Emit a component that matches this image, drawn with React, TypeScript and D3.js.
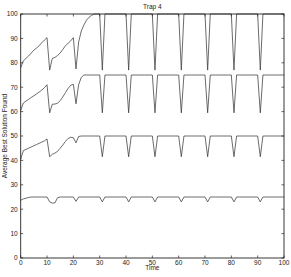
import React from "react";
import * as d3 from "d3";

const W = 291;
const H = 277;
const M = { left: 20.7, right: 284, top: 14, bottom: 258 };

const xTicks = [0, 10, 20, 30, 40, 50, 60, 70, 80, 90, 100];
const yTicks = [0, 10, 20, 30, 40, 50, 60, 70, 80, 90, 100];

const s100 = [
  78, 80.8, 81.8, 82.8, 84, 85.2, 86, 87, 88.2, 89.3, 90.3,
  77, 81.8, 82.2, 83, 84, 85.5, 87, 88, 89, 90.3,
  77.5, 88.5, 93, 95.5, 97.5, 98.7, 99.5, 100, 100, 100,
  77, 100, 100, 100, 100, 100, 100, 100, 100, 100,
  77, 100, 100, 100, 100, 100, 100, 100, 100, 100,
  77, 100, 100, 100, 100, 100, 100, 100, 100, 100,
  77, 100, 100, 100, 100, 100, 100, 100, 100, 100,
  77, 100, 100, 100, 100, 100, 100, 100, 100, 100,
  77, 100, 100, 100, 100, 100, 100, 100, 100, 100,
  77, 100, 100, 100, 100, 100, 100, 100, 100, 100,
];

const s75 = [
  60.5, 63.5, 64.3, 65, 65.8, 66.5, 67.2, 68, 68.8, 69.8, 71,
  59.5, 63, 63.1, 63.4, 64.5, 66, 67.8, 69.5, 70.8, 71.2,
  63.2, 71, 74, 75, 75, 75, 75, 75, 75, 75,
  59.5, 75, 75, 75, 75, 75, 75, 75, 75, 75,
  59.5, 75, 75, 75, 75, 75, 75, 75, 75, 75,
  59.5, 75, 75, 75, 75, 75, 75, 75, 75, 75,
  59.5, 75, 75, 75, 75, 75, 75, 75, 75, 75,
  59.5, 75, 75, 75, 75, 75, 75, 75, 75, 75,
  59.5, 75, 75, 75, 75, 75, 75, 75, 75, 75,
  59.5, 75, 75, 75, 75, 75, 75, 75, 75, 75,
];

const s50 = [
  40.5, 44, 44.5, 45, 45.5, 46, 46.5, 47, 47.5, 48, 48.8,
  41.5, 42.5, 43, 43.7, 45, 46.3, 47.8, 49, 49.5, 49.3,
  47.2, 49.8, 50, 50, 50, 50, 50, 50, 50, 50,
  41.5, 50, 50, 50, 50, 50, 50, 50, 50, 50,
  41.5, 50, 50, 50, 50, 50, 50, 50, 50, 50,
  41.5, 50, 50, 50, 50, 50, 50, 50, 50, 50,
  41.5, 50, 50, 50, 50, 50, 50, 50, 50, 50,
  41.5, 50, 50, 50, 50, 50, 50, 50, 50, 50,
  41.5, 50, 50, 50, 50, 50, 50, 50, 50, 50,
  41.5, 50, 50, 50, 50, 50, 50, 50, 50, 50,
];

const s25 = [
  23.7, 24.2, 24.5, 24.8, 25, 25, 25, 25, 25, 25, 25,
  23, 22.5, 22.6, 24.7, 25, 25, 25, 25, 25, 25,
  23.2, 25, 25, 25, 25, 25, 25, 25, 25, 25,
  23, 25, 25, 25, 25, 25, 25, 25, 25, 25,
  23, 25, 25, 25, 25, 25, 25, 25, 25, 25,
  23, 25, 25, 25, 25, 25, 25, 25, 25, 25,
  23, 25, 25, 25, 25, 25, 25, 25, 25, 25,
  23, 25, 25, 25, 25, 25, 25, 25, 25, 25,
  23, 25, 25, 25, 25, 25, 25, 25, 25, 25,
  23, 25, 25, 25, 25, 25, 25, 25, 25, 25,
];

const series = [s100, s75, s50, s25];

export default function App() {
  const x = d3.scaleLinear().domain([0, 100]).range([M.left, M.right]);
  const y = d3.scaleLinear().domain([0, 100]).range([M.bottom, M.top]);
  const line = d3
    .line<number>()
    .x((_, i) => x(i))
    .y((d) => y(d));
  const font = "Liberation Sans, Arial, sans-serif";
  const tl = 2.5;
  return (
    <svg
      width={W}
      height={H}
      style={{ position: "absolute", left: 0, top: 0, background: "#fff" }}
      fontFamily={font}
    >
      <rect x={0} y={0} width={W} height={H} fill="#fff" />
      {series.map((s, k) => (
        <path key={k} d={line(s) || ""} fill="none" stroke="#3a3a3a" strokeWidth={0.75} />
      ))}
      <rect
        x={M.left}
        y={M.top}
        width={M.right - M.left}
        height={M.bottom - M.top}
        fill="none"
        stroke="#222"
        strokeWidth={0.9}
      />
      {xTicks.map((t) => (
        <g key={"x" + t}>
          <line x1={x(t)} x2={x(t)} y1={M.bottom} y2={M.bottom - tl} stroke="#222" strokeWidth={0.7} />
          <line x1={x(t)} x2={x(t)} y1={M.top} y2={M.top + tl} stroke="#222" strokeWidth={0.7} />
          <text x={x(t)} y={M.bottom + 6.5} fontSize={6.5} textAnchor="middle" fill="#222">
            {t}
          </text>
        </g>
      ))}
      {yTicks.map((t) => (
        <g key={"y" + t}>
          <line x1={M.left} x2={M.left + tl} y1={y(t)} y2={y(t)} stroke="#222" strokeWidth={0.7} />
          <line x1={M.right} x2={M.right - tl} y1={y(t)} y2={y(t)} stroke="#222" strokeWidth={0.7} />
          <text x={M.left - 3} y={y(t) + 2.3} fontSize={6.5} textAnchor="end" fill="#222">
            {t}
          </text>
        </g>
      ))}
      <text x={(M.left + M.right) / 2} y={8.5} fontSize={6.5} textAnchor="middle" fill="#222">
        Trap 4
      </text>
      <text x={(M.left + M.right) / 2} y={270} fontSize={6.5} textAnchor="middle" fill="#222">
        Time
      </text>
      <text
        transform={`translate(6.5, ${(M.top + M.bottom) / 2}) rotate(-90)`}
        fontSize={6.5}
        textAnchor="middle"
        fill="#222"
      >
        Average Best Solution Found
      </text>
    </svg>
  );
}
